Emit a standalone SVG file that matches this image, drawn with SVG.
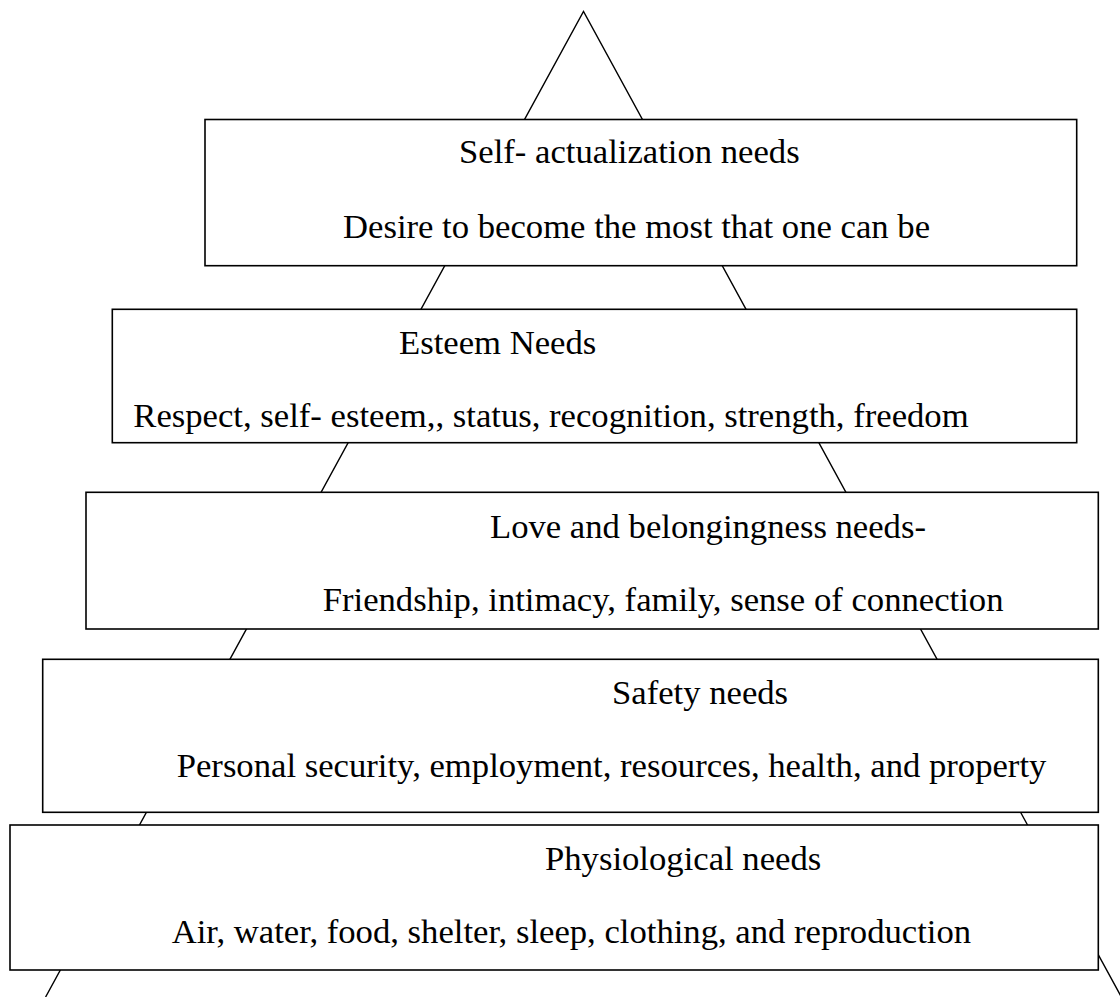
<svg xmlns="http://www.w3.org/2000/svg" width="1120" height="997" viewBox="0 0 1120 997">
<style>
.box{fill:#ffffff;stroke:#000000;stroke-width:1.6}
.tri{fill:none;stroke:#000000;stroke-width:1.4}
text{font-family:"Liberation Serif","Times New Roman",serif;font-size:34.67px;fill:#000000}
</style>
<rect x="0" y="0" width="1120" height="997" fill="#ffffff"/>
<g id="connectors">
<polyline class="tri" points="45.6,997 583.5,11.5 1121.4,997"/>
</g>
<g id="self-actualization">
<rect class="box" x="205" y="119.5" width="871.7" height="146.2"/>
<text x="459" y="163">Self- actualization needs</text>
<text x="343" y="238">Desire to become the most that one can be</text>
</g>
<g id="esteem">
<rect class="box" x="112.3" y="309.3" width="964.4" height="133.4"/>
<text x="399" y="354">Esteem Needs</text>
<text x="133.3" y="426.7">Respect, self- esteem,, status, recognition, strength, freedom</text>
</g>
<g id="love">
<rect class="box" x="86" y="492.3" width="1012.3" height="136.7"/>
<text x="490" y="538">Love and belongingness needs-</text>
<text x="322.7" y="611">Friendship, intimacy, family, sense of connection</text>
</g>
<g id="safety">
<rect class="box" x="42.7" y="659.3" width="1055.6" height="153"/>
<text x="612" y="704">Safety needs</text>
<text x="176.7" y="776.7">Personal security, employment, resources, health, and property</text>
</g>
<g id="physiological">
<rect class="box" x="10" y="825" width="1088.3" height="145"/>
<text x="545" y="869.5">Physiological needs</text>
<text x="171.7" y="943.3">Air, water, food, shelter, sleep, clothing, and reproduction</text>
</g>
</svg>
